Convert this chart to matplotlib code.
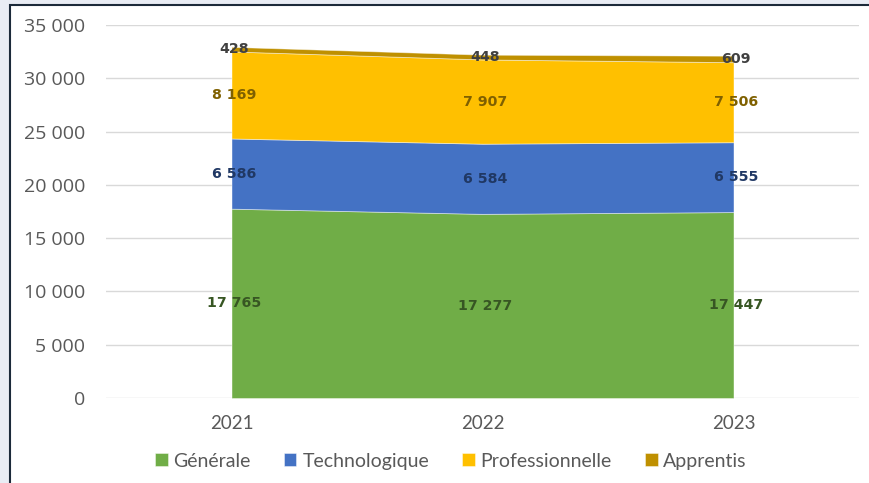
import numpy as np
import matplotlib.pyplot as plt
from matplotlib.patches import Rectangle

annees = ["2021", "2022", "2023"]
generale = [17765, 17277, 17447]
techno = [6586, 6584, 6555]
pro = [8169, 7907, 7506]
apprentis = [428, 448, 609]

series = ["Générale", "Technologique", "Professionnelle", "Apprentis"]
couleurs = ["#70ad47", "#4472c4", "#ffc000", "#bf9000"]
couleurs_txt = ["#375623", "#203864", "#7f6000", "#404040"]


def fmt(v):
    return ("{:,}".format(int(v))).replace(",", " ")


fig = plt.figure(figsize=(8.7, 4.83), dpi=100)
fig.patch.set_facecolor("#e9ecf4")
# panneau blanc avec bordure
fig.patches.append(Rectangle((10.5 / 870, -0.05), 1.1, 1 - 4.5 / 483 + 0.05,
                             transform=fig.transFigure, facecolor="white",
                             edgecolor="#1c2a3a", lw=1.5, zorder=-10))

ax = fig.add_axes([106 / 870, 1 - 398 / 483, (859 - 106) / 870, (398 - 25) / 483])
ax.set_facecolor("none")
ax.set_zorder(5)

x = np.arange(len(annees))
data = np.array([generale, techno, pro, apprentis], dtype=float)
cum = np.vstack([np.zeros(len(annees)), np.cumsum(data, axis=0)])

for i in range(len(series)):
    ax.fill_between(x, cum[i], cum[i + 1], color=couleurs[i], lw=0.6,
                    edgecolor="#ffffff80", label=series[i], zorder=2)
    for j in range(len(annees)):
        ymil = (cum[i][j] + cum[i + 1][j]) / 2
        ax.text(x[j] + 0.01, ymil, fmt(data[i][j]), ha="center", va="center",
                fontsize=10.2, fontweight="bold", color=couleurs_txt[i],
                family="DejaVu Sans", zorder=4)

ax.set_xlim(-0.5, 2.5)
ax.set_ylim(0, 35000)
ax.set_yticks(np.arange(0, 35001, 5000))
ax.set_yticklabels([fmt(v) for v in np.arange(0, 35001, 5000)])
ax.set_xticks(x)
ax.set_xticklabels(annees)
ax.grid(axis="y", color="#d9d9d9", lw=1, zorder=1)
ax.set_axisbelow(True)
for s in ax.spines.values():
    s.set_visible(False)
ax.tick_params(axis="both", length=0, colors="#595959")
ax.tick_params(axis="y", pad=15, labelsize=14)
ax.tick_params(axis="x", pad=12, labelsize=13.5)
for lab in ax.get_yticklabels():
    lab.set_family("Open Sans")
for lab in ax.get_xticklabels():
    lab.set_family("Lato")

leg = ax.legend(loc="upper center", bbox_to_anchor=(0.458, -0.10), ncol=4,
                frameon=False, handlelength=0.65, handleheight=0.65,
                handletextpad=0.3, columnspacing=1.7,
                prop={"family": "Lato", "size": 14})
for t in leg.get_texts():
    t.set_color("#595959")

plt.savefig("out.png", dpi=100, facecolor=fig.get_facecolor())
